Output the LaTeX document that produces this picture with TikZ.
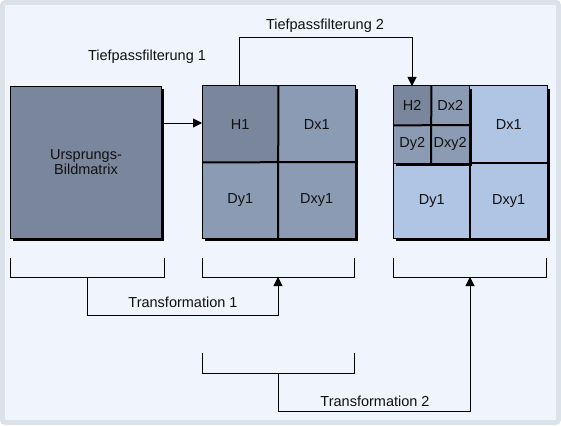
\documentclass[tikz,border=0pt]{standalone}
\usepackage{fontspec}
\setmainfont{Liberation Sans}
\usetikzlibrary{arrows.meta}
\definecolor{outerbg}{HTML}{DCE2EA}
\definecolor{panelbg}{HTML}{F0F4FC}
\definecolor{celldark}{HTML}{7A869C}
\definecolor{cellmid}{HTML}{8C9BB4}
\definecolor{celllight}{HTML}{B0C4E4}
\definecolor{txt}{HTML}{111111}
\begin{document}
\begin{tikzpicture}[x=1pt,y=-1pt,
  lbl/.style={font=\fontsize{14.5}{15}\selectfont, text=txt, inner sep=0pt},
  cell/.style={lbl, anchor=north west, minimum width=#1, minimum height=#1},
  box/.style={draw=black, line width=1pt},
  divider/.style={draw=black, line width=2pt},
  shadowfill/.style={fill=black},
  conn/.style={draw=black, line width=1pt},
  arr/.style={conn, -{Triangle[length=9pt,width=9pt]}},
  bracket/.style={draw=black, line width=1pt}]
\useasboundingbox (0,0) rectangle (561,425);
\fill[white] (0,0) rectangle (561,425);
\fill[outerbg, rounded corners=5pt] (0,0) rectangle (561,425);
\fill[panelbg] (5,5) rectangle (556,420);

% source box
\fill[shadowfill] (13,89) rectangle (164,241);
\node[lbl, fill=celldark, box, anchor=north west, minimum width=151pt, minimum height=152pt, align=center] (src) at (10,86) {Ursprungs-\\Bildmatrix};

% middle box
\fill[shadowfill] (205,89) rectangle (358,241);
\node[cell=76pt, fill=celldark, minimum width=76pt] (H1) at (202,86) {H1};
\node[cell=76pt, fill=cellmid, minimum width=77pt] (Dx1a) at (278,86) {Dx1};
\node[cell=76pt, fill=cellmid, minimum width=76pt] (Dy1a) at (202,162) {Dy1};
\node[cell=76pt, fill=cellmid, minimum width=77pt] (Dxy1a) at (278,162) {Dxy1};
\draw[box] (H1.north west) rectangle (Dxy1a.south east);
\draw[divider] (H1.north east) -- (Dxy1a.south west);
\draw[divider] (H1.south west) -- (Dxy1a.north east);

% right box
\fill[shadowfill] (396,89) rectangle (550,241);
\node[cell=77pt, fill=celllight] (Dx1b) at (470,86) {Dx1};
\node[cell=75pt, fill=celllight, minimum width=77pt] (Dy1b) at (393,163) {Dy1};
\node[cell=75pt, fill=celllight, minimum width=77pt] (Dxy1b) at (470,163) {Dxy1};
\draw[box] (393,86) rectangle (Dxy1b.south east);
\draw[divider] (Dy1b.north east) -- (Dy1b.south east);
\draw[divider] (Dy1b.north west) -- (Dxy1b.north east);
% small grid
\fill[shadowfill] (396,89) rectangle (472,166);
\node[cell=39pt, fill=celldark, minimum width=38pt] (H2) at (393,86) {H2};
\node[cell=39pt, fill=cellmid, minimum width=38pt] (Dx2) at (431,86) {Dx2};
\node[cell=38pt, fill=cellmid, minimum width=38pt] (Dy2) at (393,125) {Dy2};
\node[cell=38pt, fill=cellmid, minimum width=38pt] (Dxy2) at (431,125) {Dxy2};
\draw[box] (H2.north west) rectangle (Dxy2.south east);
\draw[divider] (H2.north east) -- (Dxy2.south west);
\draw[divider] (H2.south west) -- (Dxy2.north east);

% Tiefpassfilterung arrows
\node[lbl] (tp1) at (147,57) {Tiefpassfilterung 1};
\node[lbl] (tp2) at (325,26) {Tiefpassfilterung 2};
\draw[arr] (src.east |- 0,123) -- (H1.west |- 0,123);
\coordinate (tpup) at (239,38);
\draw[arr] (H1.north west -| tpup) -- (tpup) -| (H2.north -| 412,0);

% brackets
\draw[bracket] (10.5,258) |- (164.5,277) -- (164.5,258);
\draw[bracket] (202.5,258) |- (354.5,277) -- (354.5,258);
\draw[bracket] (393.5,258) |- (546.5,277) -- (546.5,258);
\draw[bracket] (202.5,353) |- (354.5,373) -- (354.5,353);
\coordinate (bl) at (87,277);
\coordinate (bm) at (278,277);
\coordinate (br) at (470,277);
\coordinate (bb) at (278,373);

\node[lbl] (t1) at (183,302) {Transformation 1};
\node[lbl] (t2) at (375,401) {Transformation 2};
\draw[arr] (bl) -- (87,315) -| (bm);
\draw[arr] (bb) -- (278,411) -| (br);
\end{tikzpicture}
\end{document}
